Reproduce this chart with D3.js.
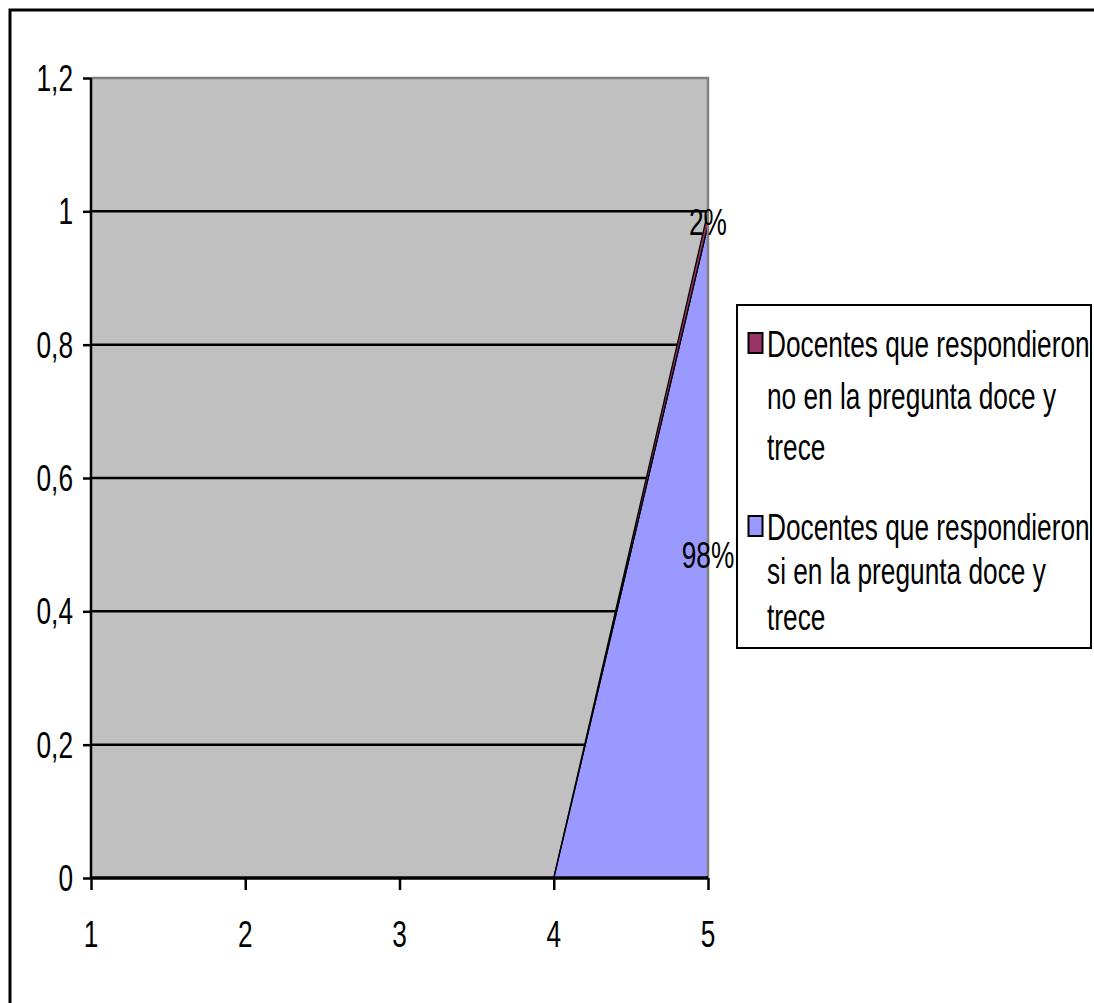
<!DOCTYPE html>
<html><head><meta charset="utf-8">
<script src="https://cdn.jsdelivr.net/npm/d3@7"></script>
<style>body{margin:0;background:#fff}svg{display:block}</style>
</head><body>
<svg id="c" width="1094" height="1003"></svg>
<script>
const categories = [1, 2, 3, 4, 5];
const seriesNames = ["Docentes que respondieron no en la pregunta doce y trece",
                     "Docentes que respondieron si en la pregunta doce y trece"];
const noValues = [0, 0, 0, 0, 0.02];
const siValues = [0, 0, 0, 0, 0.98];
const yTicks = [0, 0.2, 0.4, 0.6, 0.8, 1, 1.2];
const dataLabels = ["2%", "98%"];
const legendLines = [["Docentes que respondieron", "no en la pregunta doce y", "trece"],
                     ["Docentes que respondieron", "si en la pregunta doce y", "trece"]];

const FONT = "'Liberation Sans', Arial, sans-serif";
const FS = 37, SX = 0.71;
const svg = d3.select("#c");

// outer border
svg.append("rect").attr("x", 10).attr("y", 10).attr("width", 1110).attr("height", 1020)
  .attr("fill", "#fff").attr("stroke", "#000").attr("stroke-width", 3);

const x = d3.scaleLinear().domain([1, 5]).range([91, 708]);
const y = d3.scaleLinear().domain([0, 1.2]).range([878, 78]);

// plot background
svg.append("rect").attr("x", x(1)).attr("y", y(1.2)).attr("width", x(5) - x(1)).attr("height", y(0) - y(1.2))
  .attr("fill", "#C0C0C0");

// gridlines
svg.append("g").selectAll("line").data(yTicks.filter(d => d > 0 && d < 1.2)).join("line")
  .attr("x1", x(1)).attr("x2", x(5)).attr("y1", d => y(d)).attr("y2", d => y(d))
  .attr("stroke", "#000").attr("stroke-width", 2.5);

// stacked areas
const table = categories.map((c, i) => ({ cat: c, si: siValues[i], no: noValues[i] }));
const stack = d3.stack().keys(["si", "no"])(table);
const colors = { si: "#9999FF", no: "#993366" };
const area = d3.area().x(d => x(d.data.cat)).y0(d => y(d[0])).y1(d => y(d[1]));
svg.append("g").selectAll("path").data(stack).join("path")
  .attr("d", area).attr("fill", d => colors[d.key])
  .attr("stroke", "#000").attr("stroke-width", 1.3).attr("stroke-linejoin", "round");

// plot border (top/right gray)
svg.append("path").attr("d", `M${x(1)},${y(1.2)}H${x(5)}V${y(0)}`)
  .attr("fill", "none").attr("stroke", "#808080").attr("stroke-width", 2.5);

// axes
const yAxis = d3.axisLeft(y).tickValues(yTicks).tickSize(8).tickFormat("");
const gy = svg.append("g").attr("transform", `translate(${x(1)},0)`).call(yAxis);
gy.selectAll("path,line").attr("stroke", "#000").attr("stroke-width", 2.5);
gy.select(".domain").attr("d", `M0,${y(1.2)}V${y(0)}`);
const xAxis = d3.axisBottom(x).tickValues(categories).tickSize(12).tickFormat("");
const gx = svg.append("g").attr("transform", `translate(0,${y(0)})`).call(xAxis);
gx.selectAll("path,line").attr("stroke", "#000").attr("stroke-width", 2.5);
gx.select(".domain").attr("d", `M${x(1)},0H${x(5)}`).attr("stroke-width", 3.5);

function txt(px, py, s, anchor) {
  return svg.append("text").attr("transform", `translate(${px},${py}) scale(${SX},1)`)
    .attr("text-anchor", anchor).attr("font-family", FONT).attr("font-size", FS)
    .attr("fill", "#000").text(s);
}

// y tick labels
yTicks.forEach(t => txt(73, y(t) + 13, String(t).replace(".", ","), "end"));
// x tick labels
categories.forEach(c => txt(x(c), 947, String(c), "middle"));

// data labels
const last = categories.length - 1;
txt(x(5), y(stack[1][last][0] + noValues[last] / 2) + 17, dataLabels[0], "middle");
txt(x(5), y(siValues[last] / 2) + 17, dataLabels[1], "middle");

// legend
svg.append("rect").attr("x", 737).attr("y", 305).attr("width", 354).attr("height", 343)
  .attr("fill", "#fff").attr("stroke", "#000").attr("stroke-width", 2);
const legendKeys = ["no", "si"];
const legTops = [357, 540];
const lineOffsets = [[0, 52, 103], [0, 44, 90]];
legendKeys.forEach((k, i) => {
  svg.append("rect").attr("x", 748.5).attr("y", legTops[i] - 24).attr("width", 14).attr("height", 20)
    .attr("fill", colors[k]).attr("stroke", "#000").attr("stroke-width", 2);
  legendLines[i].forEach((l, j) => txt(767, legTops[i] + lineOffsets[i][j], l, "start"));
});
</script>
</body></html>
